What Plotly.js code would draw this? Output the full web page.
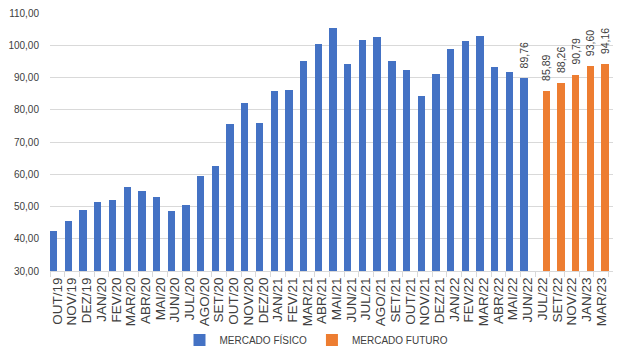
<!DOCTYPE html>
<html>
<head>
<meta charset="utf-8">
<script src="https://cdn.plot.ly/plotly-3.0.1.min.js"></script>
<style>html,body{margin:0;padding:0;background:#fff;}#chart{width:633px;height:352px;}</style>
</head>
<body>
<div id="chart"></div>
<script>
var categories = ['OUT/19','NOV/19','DEZ/19','JAN/20','FEV/20','MAR/20','ABR/20','MAI/20','JUN/20','JUL/20','AGO/20','SET/20','OUT/20','NOV/20','DEZ/20','JAN/21','FEV/21','MAR/21','ABR/21','MAI/21','JUN/21','JUL/21','AGO/21','SET/21','OUT/21','NOV/21','DEZ/21','JAN/22','FEV/22','MAR/22','ABR/22','MAI/22','JUN/22','JUL/22','SET/22','NOV/22','JAN/23','MAR/23'];
var mercadoFisico = [42.4,45.5,48.9,51.4,52.0,56.1,54.8,53.0,48.6,50.5,59.6,62.6,75.6,82.1,75.8,85.9,86.2,95.2,100.5,105.3,94.3,101.7,102.6,95.2,92.4,84.3,91.2,98.9,101.4,102.9,93.3,91.8,89.76,null,null,null,null,null];
var mercadoFuturo = [null,null,null,null,null,null,null,null,null,null,null,null,null,null,null,null,null,null,null,null,null,null,null,null,null,null,null,null,null,null,null,null,null,85.89,88.26,90.79,93.60,94.16];
var labeledFisico = ['JUN/22'];
var labeledFuturo = ['JUL/22','SET/22','NOV/22','JAN/23','MAR/23'];
var seriesNames = ['MERCADO FÍSICO','MERCADO FUTURO'];
var yTicks = [30,40,50,60,70,80,90,100,110];

var FONT = '"Liberation Sans", Arial, sans-serif';
var TXT = '#404040';
function fmt(v){ return v.toFixed(2).replace('.', ','); }

var traces = [
  {type:'bar', name:seriesNames[0], x:categories, y:mercadoFisico, marker:{color:'#4472C4'}, hoverinfo:'none'},
  {type:'bar', name:seriesNames[1], x:categories, y:mercadoFuturo, marker:{color:'#ED7D31'}, hoverinfo:'none'}
];

var annotations = [];
function addLabels(list, vals, offset){
  list.forEach(function(c){
    var i = categories.indexOf(c);
    annotations.push({x:i+offset, y:vals[i], xref:'x', yref:'y', text:fmt(vals[i]), showarrow:false,
      textangle:-90, yanchor:'bottom', xanchor:'center', yshift:8,
      font:{family:FONT, size:10.5, color:TXT}});
  });
}
addLabels(labeledFisico, mercadoFisico, -0.25);
addLabels(labeledFuturo, mercadoFuturo, 0.25);

var layout = {
  width:633, height:352,
  margin:{l:50, r:20, t:13, b:81},
  paper_bgcolor:'#fff', plot_bgcolor:'#fff',
  separators:',.',
  barmode:'group', bargap:0, bargroupgap:0,
  font:{family:FONT, color:TXT},
  showlegend:true,
  legend:{orientation:'h', x:0.5, xanchor:'center', xref:'container', yref:'container', y:0.034, yanchor:'middle',
    font:{family:FONT, size:10, color:TXT}, itemwidth:30, traceorder:'normal'},
  xaxis:{type:'category', categoryorder:'array', categoryarray:categories,
    tickmode:'array', tickvals:categories, ticktext:categories,
    tickangle:-90, tickfont:{family:FONT, size:13.5, color:TXT},
    ticks:'outside', tickson:'boundaries', ticklen:5, tickcolor:'#d9d9d9',
    showline:true, linecolor:'#d9d9d9', linewidth:1, showgrid:false, automargin:false, fixedrange:true},
  yaxis:{range:[30,110], tickvals:yTicks, tickformat:'.2f',
    tickfont:{family:FONT, size:10, color:TXT},
    showgrid:true, gridcolor:'#d9d9d9', gridwidth:1, zeroline:false, showline:false,
    ticks:'', ticklabelstandoff:10, automargin:false, fixedrange:true},
  annotations:annotations
};

Plotly.newPlot('chart', traces, layout, {displayModeBar:false, staticPlot:true});
</script>
</body>
</html>
